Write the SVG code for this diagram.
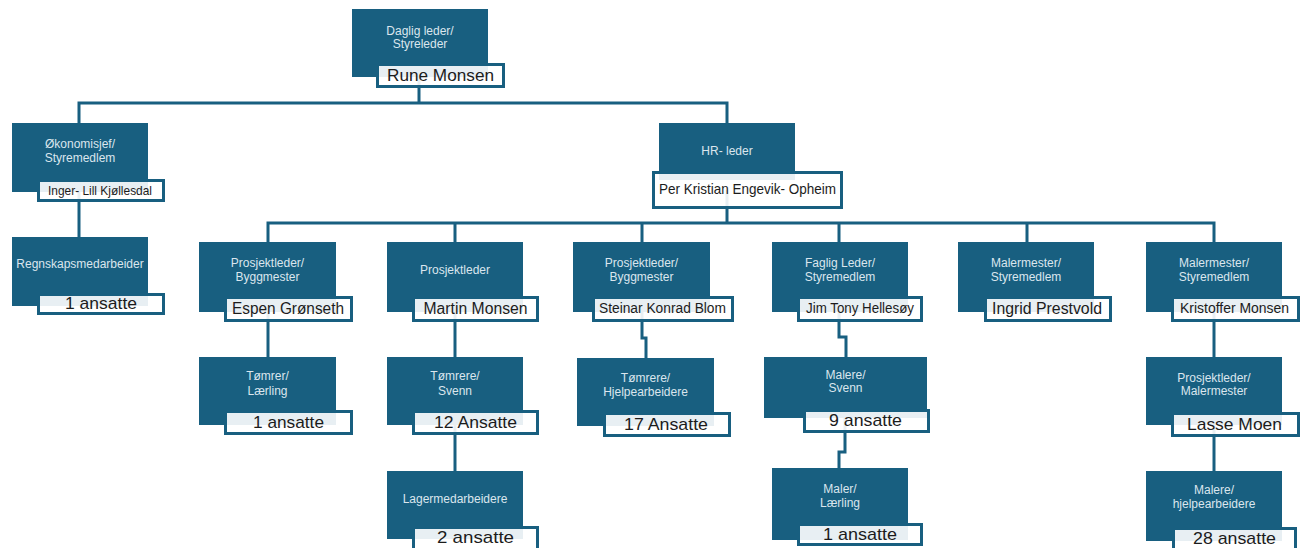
<svg xmlns="http://www.w3.org/2000/svg" width="1304" height="548" viewBox="0 0 1304 548">
<style>
.box{fill:#185f80}
.lbl{fill:#fff;fill-opacity:.9;stroke:#185f80;stroke-width:3}
.t{font-family:"Liberation Sans",Arial,sans-serif;font-size:12px;fill:#dbe6ee;text-anchor:middle}
.n{font-family:"Liberation Sans",Arial,sans-serif;fill:#1c1c1c;text-anchor:middle}
.c{fill:none;stroke:#185f80;stroke-width:3}
</style>
<rect width="1304" height="548" fill="#fff"/>
<g id="connectors">
<path class="c" d="M419 76V103"/>
<path class="c" d="M79 123V103H727V123"/>
<path class="c" d="M79 190V237"/>
<path class="c" d="M727 190V223"/>
<path class="c" d="M268 242V223H1214V242"/>
<path class="c" d="M455 223V242M642 223V242M839 223V242M1027 223V242"/>
<path class="c" d="M268 310V357"/>
<path class="c" d="M455 310V357"/>
<path class="c" d="M642 310V338H646V358"/>
<path class="c" d="M839 310V337H846V357"/>
<path class="c" d="M1214 310V357"/>
<path class="c" d="M455 420V471"/>
<path class="c" d="M845 416V452H839V468"/>
<path class="c" d="M1214 420V471"/>
</g>
<g id="n-daglig">
<rect class="box" x="352" y="9" width="136" height="68"/>
<text class="t" x="420" y="35">Daglig leder/</text>
<text class="t" x="420" y="48">Styreleder</text>
<rect class="lbl" x="377.5" y="64.5" width="126" height="22"/>
<text class="n" x="440.5" y="81" font-size="17" textLength="107" lengthAdjust="spacingAndGlyphs">Rune Monsen</text>
</g>
<g id="n-okonomi">
<rect class="box" x="12" y="123" width="136" height="69"/>
<text class="t" x="80" y="148">Økonomisjef/</text>
<text class="t" x="80" y="162">Styremedlem</text>
<rect class="lbl" x="38.5" y="180.5" width="125" height="20"/>
<text class="n" x="100" y="195" font-size="13.5" textLength="104" lengthAdjust="spacingAndGlyphs">Inger- Lill Kjøllesdal</text>
</g>
<g id="n-regnskap">
<rect class="box" x="12" y="237" width="136" height="69"/>
<text class="t" x="80" y="268">Regnskapsmedarbeider</text>
<rect class="lbl" x="38.5" y="294.5" width="125" height="19"/>
<text class="n" x="101" y="309" font-size="17" textLength="72" lengthAdjust="spacingAndGlyphs">1 ansatte</text>
</g>
<g id="n-hr">
<rect class="box" x="659" y="123" width="136" height="57"/>
<text class="t" x="727" y="155">HR- leder</text>
<rect class="lbl" x="653.5" y="172.5" width="188" height="35"/>
<text class="n" x="747.5" y="194" font-size="14.5" textLength="177" lengthAdjust="spacingAndGlyphs">Per Kristian Engevik- Opheim</text>
</g>
<g id="n-espen">
<rect class="box" x="199" y="242" width="137" height="70"/>
<text class="t" x="267.5" y="267">Prosjektleder/</text>
<text class="t" x="267.5" y="281">Byggmester</text>
<rect class="lbl" x="225.5" y="297.5" width="126" height="23"/>
<text class="n" x="288" y="314" font-size="16" textLength="112" lengthAdjust="spacingAndGlyphs">Espen Grønseth</text>
</g>
<g id="n-martin">
<rect class="box" x="387" y="242" width="136" height="70"/>
<text class="t" x="455" y="274">Prosjektleder</text>
<rect class="lbl" x="413.5" y="297.5" width="124" height="23"/>
<text class="n" x="475.5" y="314" font-size="16" textLength="104" lengthAdjust="spacingAndGlyphs">Martin Monsen</text>
</g>
<g id="n-steinar">
<rect class="box" x="573" y="242" width="137" height="70"/>
<text class="t" x="641.5" y="267">Prosjektleder/</text>
<text class="t" x="641.5" y="281">Byggmester</text>
<rect class="lbl" x="593.5" y="297.5" width="139" height="23"/>
<text class="n" x="662.5" y="313" font-size="14" textLength="127" lengthAdjust="spacingAndGlyphs">Steinar Konrad Blom</text>
</g>
<g id="n-jim">
<rect class="box" x="772" y="242" width="136" height="70"/>
<text class="t" x="840" y="267">Faglig Leder/</text>
<text class="t" x="840" y="281">Styremedlem</text>
<rect class="lbl" x="798.5" y="297.5" width="123" height="23"/>
<text class="n" x="860" y="313" font-size="14" textLength="108" lengthAdjust="spacingAndGlyphs">Jim Tony Hellesøy</text>
</g>
<g id="n-ingrid">
<rect class="box" x="958" y="242" width="136" height="70"/>
<text class="t" x="1026" y="267">Malermester/</text>
<text class="t" x="1026" y="281">Styremedlem</text>
<rect class="lbl" x="985.5" y="297.5" width="125" height="23"/>
<text class="n" x="1047" y="314" font-size="16" textLength="110" lengthAdjust="spacingAndGlyphs">Ingrid Prestvold</text>
</g>
<g id="n-kristoffer">
<rect class="box" x="1146" y="242" width="136" height="70"/>
<text class="t" x="1214" y="267">Malermester/</text>
<text class="t" x="1214" y="281">Styremedlem</text>
<rect class="lbl" x="1172.5" y="297.5" width="126" height="23"/>
<text class="n" x="1234.5" y="313" font-size="14" textLength="109" lengthAdjust="spacingAndGlyphs">Kristoffer Monsen</text>
</g>
<g id="n-tomrer-laerling">
<rect class="box" x="199" y="357" width="137" height="68"/>
<text class="t" x="267.5" y="380">Tømrer/</text>
<text class="t" x="267.5" y="395">Lærling</text>
<rect class="lbl" x="225.5" y="411.5" width="126" height="22"/>
<text class="n" x="288.5" y="428" font-size="17" textLength="71" lengthAdjust="spacingAndGlyphs">1 ansatte</text>
</g>
<g id="n-tomrere-svenn">
<rect class="box" x="387" y="357" width="136" height="68"/>
<text class="t" x="455" y="380">Tømrere/</text>
<text class="t" x="455" y="395">Svenn</text>
<rect class="lbl" x="413.5" y="411.5" width="124" height="22"/>
<text class="n" x="475.5" y="428" font-size="17" textLength="83" lengthAdjust="spacingAndGlyphs">12 Ansatte</text>
</g>
<g id="n-tomrere-hjelp">
<rect class="box" x="577" y="358" width="137" height="68"/>
<text class="t" x="645.5" y="382">Tømrere/</text>
<text class="t" x="645.5" y="396">Hjelpearbeidere</text>
<rect class="lbl" x="604.5" y="413.5" width="125" height="22"/>
<text class="n" x="666" y="430" font-size="17" textLength="84" lengthAdjust="spacingAndGlyphs">17 Ansatte</text>
</g>
<g id="n-malere-svenn">
<rect class="box" x="764" y="357" width="163" height="61"/>
<text class="t" x="845.5" y="379">Malere/</text>
<text class="t" x="845.5" y="392">Svenn</text>
<rect class="lbl" x="804.5" y="410.5" width="124" height="21"/>
<text class="n" x="865.5" y="426" font-size="17" textLength="73" lengthAdjust="spacingAndGlyphs">9 ansatte</text>
</g>
<g id="n-lasse">
<rect class="box" x="1146" y="357" width="136" height="68"/>
<text class="t" x="1214" y="382">Prosjektleder/</text>
<text class="t" x="1214" y="395">Malermester</text>
<rect class="lbl" x="1172.5" y="413.5" width="126" height="22"/>
<text class="n" x="1234.5" y="430" font-size="17" textLength="95" lengthAdjust="spacingAndGlyphs">Lasse Moen</text>
</g>
<g id="n-lager">
<rect class="box" x="387" y="471" width="136" height="68"/>
<text class="t" x="455" y="503">Lagermedarbeidere</text>
<rect class="lbl" x="413.5" y="527.5" width="124" height="24"/>
<text class="n" x="475.5" y="543" font-size="17" textLength="77" lengthAdjust="spacingAndGlyphs">2 ansatte</text>
</g>
<g id="n-maler-laerling">
<rect class="box" x="772" y="468" width="136" height="72"/>
<text class="t" x="840" y="493">Maler/</text>
<text class="t" x="840" y="507">Lærling</text>
<rect class="lbl" x="798.5" y="524.5" width="123" height="20"/>
<text class="n" x="860" y="540" font-size="17" textLength="74" lengthAdjust="spacingAndGlyphs">1 ansatte</text>
</g>
<g id="n-malere-hjelp">
<rect class="box" x="1146" y="471" width="136" height="70"/>
<text class="t" x="1214" y="494">Malere/</text>
<text class="t" x="1214" y="508">hjelpearbeidere</text>
<rect class="lbl" x="1173.5" y="528.5" width="122" height="24"/>
<text class="n" x="1234.5" y="544" font-size="17" textLength="83" lengthAdjust="spacingAndGlyphs">28 ansatte</text>
</g>
</svg>
